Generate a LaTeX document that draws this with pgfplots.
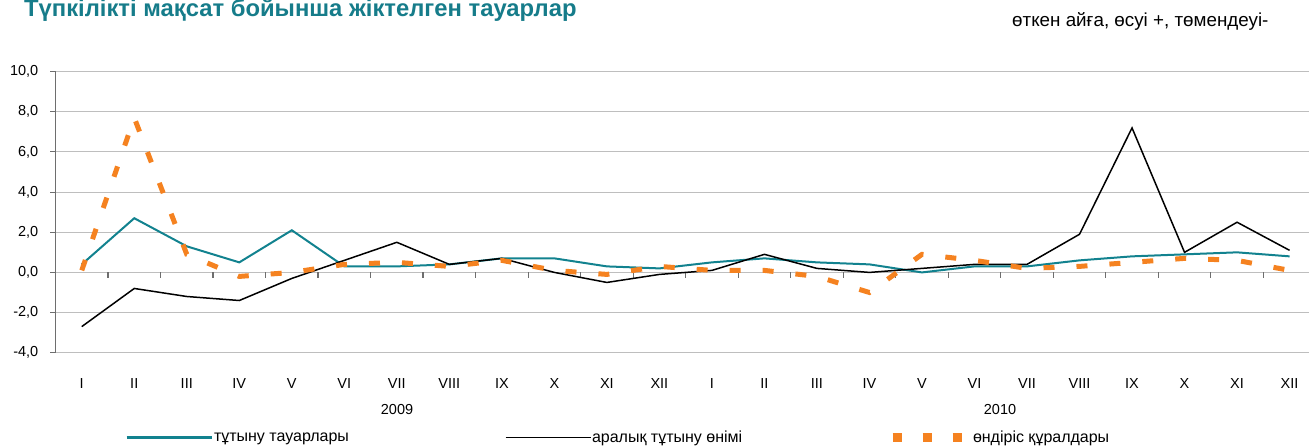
\documentclass[border=0pt]{standalone}
\usepackage{fontspec}
\setmainfont{Liberation Sans}
\usepackage{pgfplots}
\pgfplotsset{compat=1.18}
\definecolor{tealc}{RGB}{18,130,143}
\definecolor{titlec}{RGB}{22,124,138}
\definecolor{orangec}{RGB}{245,130,32}
\definecolor{gridc}{RGB}{190,190,190}
\definecolor{axisc}{RGB}{110,110,110}
\begin{document}
\begin{tikzpicture}
\fontsize{14.5bp}{17bp}\selectfont
\begin{axis}[
 at={(55.5bp,93.3bp)}, anchor=south west,
 scale only axis, width=1253.5bp, height=281bp,
 xmin=-0.5, xmax=23.37, ymin=-4, ymax=10,
 separate axis lines,
 axis x line*=bottom, axis y line*=left,
 x axis line style={draw=none},
 y axis line style={draw=axisc, line width=1bp},
 xtick={0,...,23},
 xticklabels={I,II,III,IV,V,VI,VII,VIII,IX,X,XI,XII,I,II,III,IV,V,VI,VII,VIII,IX,X,XI,XII},
 x tick style={draw=none},
 xticklabel style={anchor=base, yshift=-31bp, inner sep=0pt},
 ytick={-4,-2,...,10},
 yticklabels={{-4,0},{-2,0},{0,0},{2,0},{4,0},{6,0},{8,0},{10,0}},
 y tick style={draw=axisc, line width=1bp},
 major tick length=5bp, tick align=outside,
 yticklabel style={anchor=east, inner sep=0pt, xshift=-12bp},
 ymajorgrids, grid style={draw=gridc, line width=1bp},
 tick label style={font=\fontsize{14.5bp}{17bp}\selectfont},
 legend columns=3,
 legend cell align=left,
 legend style={at={(0.05545,-0.303)}, anchor=west, draw=none, fill=none,
   inner sep=0pt, outer sep=0pt,
   /tikz/every even column/.append style={column sep=0pt},
   font=\fontsize{16bp}{18bp}\selectfont, nodes={inner sep=1bp}},
]
\pgfplotsinvokeforeach{0.5,1.5,...,22.5}{\draw[axisc, line width=1.2bp] (axis cs:#1,0) -- (axis cs:#1,-0.27);}
\addplot[tealc, line width=2bp, mark=none,
  legend image code/.code={\draw[tealc, line width=3bp] (0bp,0bp) -- (85bp,0bp);}]
 coordinates {(0,0.4)(1,2.7)(2,1.3)(3,0.5)(4,2.1)(5,0.3)(6,0.3)(7,0.4)(8,0.7)(9,0.7)(10,0.3)(11,0.2)
 (12,0.5)(13,0.7)(14,0.5)(15,0.4)(16,0.0)(17,0.3)(18,0.3)(19,0.6)(20,0.8)(21,0.9)(22,1.0)(23,0.8)};
\addlegendentry{\makebox[290bp][l]{тұтыну тауарлары}}
\addplot[black, line width=1.5bp, mark=none,
  legend image code/.code={\draw[black, line width=1bp] (0bp,0bp) -- (85bp,0bp);}]
 coordinates {(0,-2.7)(1,-0.8)(2,-1.2)(3,-1.4)(4,-0.3)(5,0.6)(6,1.5)(7,0.4)(8,0.7)(9,0.0)(10,-0.5)(11,-0.1)
 (12,0.1)(13,0.9)(14,0.2)(15,0.0)(16,0.2)(17,0.4)(18,0.4)(19,1.9)(20,7.2)(21,1.0)(22,2.5)(23,1.1)};
\addlegendentry{\makebox[295bp][l]{аралық тұтыну өнімі}}
\addplot[orangec, line width=5bp, mark=none, dash pattern=on 11bp off 22bp,
  legend image code/.code={\draw[orangec, line width=9bp, dash pattern=on 9bp off 21bp] (0bp,0bp) -- (75bp,0bp);}]
 coordinates {(0,0.1)(1,7.7)(2,0.9)(3,-0.2)(4,0.0)(5,0.4)(6,0.5)(7,0.3)(8,0.6)(9,0.1)(10,-0.1)(11,0.3)
 (12,0.1)(13,0.1)(14,-0.2)(15,-1.0)(16,0.9)(17,0.6)(18,0.2)(19,0.3)(20,0.5)(21,0.7)(22,0.6)(23,0.1)};
\addlegendentry{өндіріс құралдары}
\end{axis}
\node[anchor=base, inner sep=0pt] at (397bp,32bp) {2009};
\node[anchor=base, inner sep=0pt] at (1000bp,32bp) {2010};
\node[anchor=base west, inner sep=0pt, text=titlec, font=\bfseries\fontsize{23.8bp}{28bp}\selectfont] at (24bp,429bp) {Түпкілікті мақсат бойынша жіктелген тауарлар};
\node[anchor=base west, inner sep=0pt, font=\fontsize{18.8bp}{22bp}\selectfont] at (1012bp,419.5bp) {өткен айға, өсуі +, төмендеуі-};
\pgfresetboundingbox
\path[use as bounding box] (0,0) rectangle (1309bp,446bp);
\end{tikzpicture}
\end{document}
